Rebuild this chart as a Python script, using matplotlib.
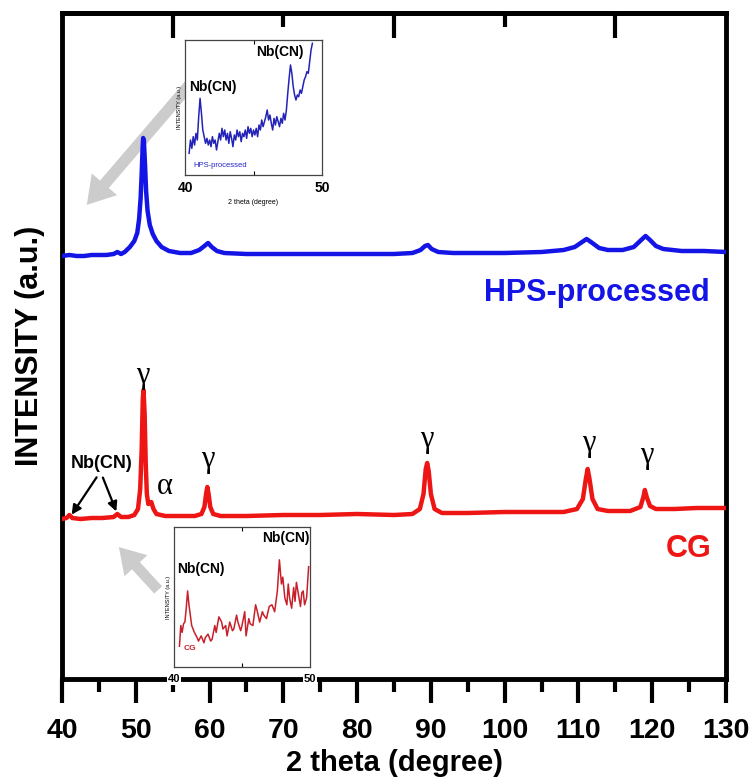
import matplotlib
matplotlib.use("Agg")
import matplotlib.pyplot as plt
from matplotlib.ticker import FixedLocator

# ---------------- data ----------------
# HPS-processed pattern (2theta, intensity a.u.)
hps_x = [40.0, 41.0, 42.0, 43.0, 44.0, 45.0, 46.0, 47.0, 47.5, 48.0, 48.5, 49.2, 49.8,
         50.2, 50.45, 50.65, 50.8, 50.92, 51.0, 51.1, 51.25, 51.4, 51.6, 51.9, 52.3, 52.8,
         53.5, 54.5, 56.0, 57.5, 58.6, 59.3, 59.8, 60.3, 61.0, 62.0, 65, 70, 75, 80, 85,
         87.5, 88.6, 89.2, 89.6, 90.1, 91.0, 93, 100, 105, 108, 109.5, 110.5, 111.1, 111.7,
         112.8, 114, 116, 117.5, 118.5, 119.1, 119.7, 120.5, 121.5, 124, 127, 130]
hps_y = [423, 424, 423, 423, 424, 424, 424, 425, 427, 425, 427, 432, 438,
         446, 460, 480, 505, 530, 541, 538, 515, 488, 468, 454, 445, 438,
         432, 428, 426, 426, 429, 433, 436, 432, 428, 426, 425, 425, 425, 425, 425,
         426, 429, 433, 434, 430, 427, 426, 426, 427, 429, 432, 437, 440, 437,
         431, 429, 429, 432, 439, 443, 439, 433, 430, 428, 428, 427]

# CG pattern
cg_x = [40.0, 40.6, 41.0, 41.4, 42.5, 44, 45.5, 47.0, 47.5, 48.0, 49.0, 49.8, 50.3, 50.6,
        50.8, 50.95, 51.05, 51.2, 51.35, 51.5, 51.7, 51.9, 52.1, 52.4, 52.8, 54, 56, 58,
        58.9, 59.3, 59.55, 59.7, 59.85, 60.1, 60.5, 61.5, 65, 70, 75, 80, 85, 87.5, 88.5,
        89.0, 89.3, 89.5, 89.7, 90.0, 90.5, 91.5, 95, 100, 105, 108, 109.8, 110.6, 111.0,
        111.25, 111.5, 111.9, 112.6, 114, 117, 118.4, 118.8, 119.0, 119.25, 119.7, 120.5,
        123, 126, 130]
cg_y = [160, 161, 164, 161, 160, 161, 161, 162, 165, 162, 162, 164, 170, 190,
        230, 280, 289, 265, 215, 185, 175, 176, 177, 170, 165, 163, 163, 163,
        165, 172, 186, 192, 186, 172, 165, 163, 163, 164, 164, 165, 164, 165, 170,
        185, 210, 216, 208, 185, 170, 166, 166, 167, 167, 167, 170, 180, 200,
        210, 200, 180, 170, 168, 168, 172, 182, 189, 182, 173, 170,
        170, 171, 171]

# Inset: HPS-processed, 40-50 deg
ins_hps_x = [40.3, 40.4, 40.5, 40.6, 40.7, 40.8, 40.9, 41.0, 41.1, 41.2, 41.3, 41.4, 41.5,
             41.6, 41.7, 41.8, 41.9, 42.0, 42.1, 42.2, 42.3, 42.4, 42.5, 42.6, 42.7, 42.8,
             42.9, 43.0, 43.1, 43.2, 43.3, 43.4, 43.5, 43.6, 43.7, 43.8, 43.9, 44.0, 44.1,
             44.2, 44.3, 44.4, 44.5, 44.6, 44.7, 44.8, 44.9, 45.0, 45.1, 45.2, 45.3, 45.4,
             45.5, 45.6, 45.7, 45.8, 45.9, 46.0, 46.1, 46.2, 46.3, 46.4, 46.5, 46.6, 46.7,
             46.8, 46.9, 47.0, 47.1, 47.2, 47.3, 47.4, 47.5, 47.6, 47.7, 47.8, 47.9, 48.0,
             48.1, 48.2, 48.3, 48.4, 48.5, 48.6, 48.7, 48.8, 48.9, 49.0, 49.1, 49.2, 49.3]
ins_hps_y = [65, 105, 80, 115, 90, 125, 105, 175, 230, 185, 135, 115, 95,
             110, 90, 105, 85, 115, 95, 105, 75, 100, 125, 105, 140, 115,
             135, 105, 125, 95, 130, 110, 85, 120, 105, 135, 115, 130, 100,
             125, 115, 135, 110, 145, 125, 140, 115, 135, 120, 140, 115, 150,
             135, 165, 145, 160, 175, 195, 165, 180, 155, 135, 170, 150, 175,
             160, 145, 170, 155, 185, 165, 195, 245, 290, 330, 305, 265, 240,
             225, 240, 235, 255, 245, 265, 285, 295, 310, 305, 340, 375, 395]

# Inset: CG, 40-50 deg
ins_cg_x = [40.4, 40.5, 40.6, 40.7, 40.8, 40.9, 41.0, 41.1, 41.2, 41.3, 41.5, 41.7, 41.8,
            42.0, 42.2, 42.3, 42.5, 42.7, 42.8, 43.0, 43.1, 43.3, 43.5, 43.6, 43.8, 43.9,
            44.1, 44.3, 44.4, 44.6, 44.7, 44.9, 45.0, 45.2, 45.3, 45.5, 45.6, 45.8, 46.0,
            46.1, 46.3, 46.5, 46.6, 46.8, 47.0, 47.2, 47.4, 47.6, 47.75, 47.9, 48.0, 48.15,
            48.3, 48.4, 48.5, 48.65, 48.8, 48.9, 49.0, 49.15, 49.3, 49.4, 49.5, 49.6, 49.75,
            49.9]
ins_cg_y = [60, 120, 100, 125, 130, 170, 220, 180, 150, 120, 100, 85, 75,
            90, 70, 85, 95, 75, 80, 120, 100, 145, 130, 110, 120, 90,
            130, 105, 110, 150, 130, 105, 120, 160, 90, 140, 125, 120, 180,
            165, 130, 160, 150, 140, 175, 180, 160, 220, 310, 240, 260, 200,
            180, 240, 200, 170, 230, 190, 245, 210, 175, 215, 220, 180, 200,
            290]

major_ticks = [40, 50, 60, 70, 80, 90, 100, 110, 120, 130]
minor_ticks = [45, 55, 65, 75, 85, 95, 105, 115, 125]
top_major = [55, 85, 115]
top_minor = [70, 100]

gamma_x = [51.0, 59.8, 89.5, 111.4, 119.3]
gamma_y = [304, 219, 239, 236, 223]

# ---------------- figure ----------------
sans = ['Liberation Sans', 'DejaVu Sans']
serif = ['Liberation Serif', 'DejaVu Serif']

fig = plt.figure(figsize=(7.52, 7.78), dpi=100)
ax = fig.add_axes([62/752, 99/778, 664/752, 666/778])

blue = '#1414e6'
red = '#ee1515'
ax.plot(hps_x, hps_y, color=blue, lw=3.2, solid_joinstyle='round', zorder=3)
ax.plot(cg_x, cg_y, color=red, lw=3.2, solid_joinstyle='round', zorder=3)

ax.set_xlim(40, 130)
ax.set_ylim(0, 666)

for s in ax.spines.values():
    s.set_linewidth(3.5)
ax.set_yticks([])
ax.xaxis.set_major_locator(FixedLocator(major_ticks))
ax.xaxis.set_minor_locator(FixedLocator(minor_ticks))
ax.tick_params(axis='x', which='major', direction='out', length=17, width=3, pad=11)
ax.tick_params(axis='x', which='minor', direction='out', length=9, width=3)
for lab in ax.get_xticklabels():
    lab.set_fontfamily(sans)
    lab.set_fontweight('bold')
    lab.set_fontsize(20.5)

sec = ax.secondary_xaxis('top')
sec.xaxis.set_major_locator(FixedLocator(top_major))
sec.xaxis.set_minor_locator(FixedLocator(top_minor))
sec.tick_params(axis='x', which='major', direction='in', length=18, width=3, labeltop=False)
sec.tick_params(axis='x', which='minor', direction='in', length=10, width=3)
sec.spines['top'].set_linewidth(3.5)

ax.set_xlabel('2 theta (degree)', fontsize=21, fontweight='bold', family=sans, labelpad=4)
ax.set_ylabel('INTENSITY (a.u.)', fontsize=22, fontweight='bold', family=sans, labelpad=12)

ax.text(127.8, 386, 'HPS-processed', color=blue, fontsize=22, fontweight='bold',
        family=sans, ha='right', va='center')
ax.text(128.1, 130, 'CG', color=red, fontsize=22, fontweight='bold',
        family=sans, ha='right', va='center')

for gx, gy in zip(gamma_x, gamma_y):
    ax.text(gx, gy, '\u03b3', fontsize=22, family=serif, ha='center', va='center')
ax.text(54.0, 192, '\u03b1', fontsize=22, family=serif, ha='center', va='center')

ax.text(45.4, 216, 'Nb(CN)', fontsize=13, fontweight='bold', family=sans,
        ha='center', va='center')
ax.annotate('', xy=(41.1, 162), xytext=(44.9, 204),
            arrowprops=dict(arrowstyle='-|>', color='black', lw=1.6, mutation_scale=14))
ax.annotate('', xy=(47.5, 165), xytext=(45.4, 204),
            arrowprops=dict(arrowstyle='-|>', color='black', lw=1.6, mutation_scale=14))

# gray arrows (figure pixels)
arrow_style = 'simple,head_width=1.6,head_length=1.3,tail_width=0.55'
ax.annotate('', xy=(85, 778 - 207), xytext=(192, 778 - 82), xycoords='figure pixels',
            textcoords='figure pixels',
            arrowprops=dict(arrowstyle=arrow_style, color='#cccccc', lw=0, mutation_scale=15),
            zorder=2)
ax.annotate('', xy=(117, 778 - 545), xytext=(160, 778 - 592), xycoords='figure pixels',
            textcoords='figure pixels',
            arrowprops=dict(arrowstyle=arrow_style, color='#cccccc', lw=0, mutation_scale=14),
            zorder=2)

# ---------------- insets ----------------
def style_inset(a):
    a.set_xlim(40, 50)
    a.set_ylim(0, 405)
    a.set_yticks([])
    a.xaxis.set_major_locator(FixedLocator([40, 50]))
    a.xaxis.set_minor_locator(FixedLocator([45]))
    a.tick_params(axis='x', which='major', length=0)
    a.tick_params(axis='x', which='minor', direction='in', length=3, width=0.8,
                  top=True, bottom=True)
    for s in a.spines.values():
        s.set_linewidth(0.9)
        s.set_color('#444444')

ia = fig.add_axes([185/752, (778-175)/778, 137/752, 135/778])
ia.plot(ins_hps_x, ins_hps_y, color='#2323b8', lw=1.1)
style_inset(ia)
ia.tick_params(axis='x', which='major', pad=4)
for lab in ia.get_xticklabels():
    lab.set_fontsize(10); lab.set_fontweight('bold'); lab.set_family(sans)
ia.set_xlabel('2 theta (degree)', fontsize=5, family=sans, labelpad=3)
ia.set_ylabel('INTENSITY (a.u.)', fontsize=4, family=sans, labelpad=2)
ia.text(0.2, 0.65, 'Nb(CN)', transform=ia.transAxes, fontsize=10, fontweight='bold',
        family=sans, ha='center', va='center')
ia.text(0.69, 0.91, 'Nb(CN)', transform=ia.transAxes, fontsize=10, fontweight='bold',
        family=sans, ha='center', va='center')
ia.text(0.06, 0.07, 'HPS-processed', transform=ia.transAxes, fontsize=5.5,
        color='#2323d0', family=sans, ha='left', va='center')

ib = fig.add_axes([174/752, (778-667)/778, 136/752, 140/778])
ib.plot(ins_cg_x, ins_cg_y, color='#c8202a', lw=1.1)
style_inset(ib)
ib.tick_params(axis='x', which='major', pad=5)
for lab in ib.get_xticklabels():
    lab.set_fontsize(8); lab.set_fontweight('bold'); lab.set_family(sans)
    lab.set_bbox(dict(facecolor='white', edgecolor='none', pad=0.5))
ib.set_ylabel('INTENSITY (a.u.)', fontsize=4, family=sans, labelpad=2)
ib.text(0.2, 0.7, 'Nb(CN)', transform=ib.transAxes, fontsize=10, fontweight='bold',
        family=sans, ha='center', va='center')
ib.text(0.82, 0.92, 'Nb(CN)', transform=ib.transAxes, fontsize=10, fontweight='bold',
        family=sans, ha='center', va='center')
ib.text(0.07, 0.13, 'CG', transform=ib.transAxes, fontsize=6, fontweight='bold',
        color='#c8202a', family=sans, ha='left', va='center')

fig.savefig('out.png', dpi=100)
